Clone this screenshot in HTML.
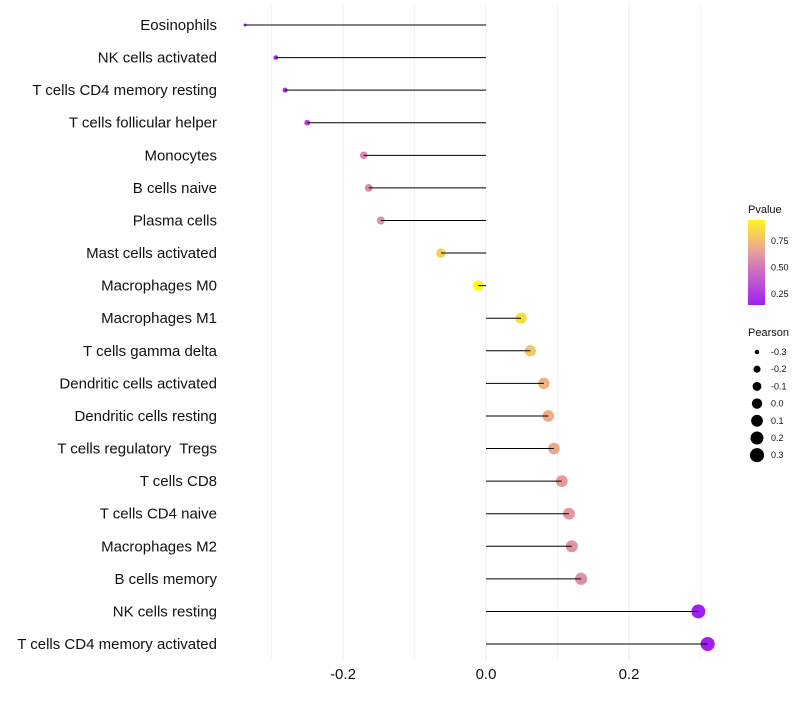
<!DOCTYPE html>
<html><head><meta charset="utf-8"><style>
body{margin:0;background:#fff;font-family:"Liberation Sans",sans-serif}
text{white-space:pre}
</style></head><body>
<svg id="chart" width="800" height="700" xmlns="http://www.w3.org/2000/svg">
<defs><linearGradient id="pg" x1="0" y1="1" x2="0" y2="0">
<stop offset="0" stop-color="#A020F0"/><stop offset="0.4" stop-color="#CC6FC0"/><stop offset="0.6" stop-color="#E59AA0"/><stop offset="0.76" stop-color="#F2BF72"/><stop offset="1" stop-color="#FFF21C"/>
</linearGradient></defs>
<g id="grid"></g><g id="dots"></g><g id="marks"></g><g id="labels"></g><g id="legend"></g>
</svg>
<script>
const cells=["Eosinophils","NK cells activated","T cells CD4 memory resting","T cells follicular helper","Monocytes","B cells naive","Plasma cells","Mast cells activated","Macrophages M0","Macrophages M1","T cells gamma delta","Dendritic cells activated","Dendritic cells resting","T cells regulatory  Tregs","T cells CD8","T cells CD4 naive","Macrophages M2","B cells memory","NK cells resting","T cells CD4 memory activated"];
const pearson=[-0.337,-0.294,-0.281,-0.250,-0.171,-0.164,-0.147,-0.063,-0.011,0.049,0.062,0.081,0.087,0.095,0.106,0.116,0.120,0.133,0.297,0.310];
const pvalues=[0.12,0.18,0.20,0.27,0.50,0.52,0.55,0.82,0.98,0.86,0.80,0.72,0.70,0.68,0.62,0.60,0.58,0.55,0.12,0.10];
const xTicks=[-0.2,0,0.2];
const xTickLabels=["-0.2","0.0","0.2"];
const xMinor=[-0.3,-0.1,0.1,0.3];
const legP=["0.75","0.50","0.25"];
const legR=[-0.3,-0.2,-0.1,0.0,0.1,0.2,0.3];
const NS="http://www.w3.org/2000/svg";
const x=v=>486+v*715;
const y=i=>25+i*32.58;
const r=v=>Math.sqrt(Math.max(1,27.1+v*73.7));
const stops=[[0.14,[160,32,240]],[0.3,[184,79,216]],[0.5,[216,136,176]],[0.65,[232,160,144]],[0.8,[242,200,96]],[0.95,[255,255,0]]];
function col(p){if(p<=stops[0][0])return "rgb("+stops[0][1]+")";for(let k=1;k<stops.length;k++){if(p<=stops[k][0]){const a=stops[k-1],b=stops[k],t=(p-a[0])/(b[0]-a[0]);return "rgb("+a[1].map((c,j)=>Math.round(c+(b[1][j]-c)*t))+")";}}return "rgb("+stops[stops.length-1][1]+")";}
function mk(tag,at,par){const e=document.createElementNS(NS,tag);for(const k in at)e.setAttribute(k,at[k]);document.getElementById(par).appendChild(e);return e;}
xMinor.concat(xTicks).forEach(v=>{const l=mk("line",{x1:x(v),x2:x(v),y1:5,y2:660,stroke:"#ebebeb","stroke-width":xTicks.includes(v)?1:0.6},"grid");

});
xTicks.forEach((v,i)=>{const t=mk("text",{x:x(v),y:679,"text-anchor":"middle","font-size":15,fill:"#111"},"labels");t.textContent=xTickLabels[i];

});
cells.forEach((c,i)=>{
const t=mk("text",{x:217,y:y(i)+5,"text-anchor":"end","font-size":15,fill:"#111"},"labels");t.textContent=c;


const d=mk("circle",{cx:x(pearson[i]),cy:y(i),r:r(pearson[i]),fill:col(pvalues[i])},"dots");


const ln=mk("line",{x1:x(0),x2:x(pearson[i]),y1:y(i),y2:y(i),stroke:"#000","stroke-width":1},"marks");


});
const lt=mk("text",{x:748,y:213,"font-size":11,fill:"#111"},"legend");lt.textContent="Pvalue";


const cb=mk("rect",{x:748,y:220,width:17,height:85,fill:"url(#pg)"},"legend");


legP.forEach((s,i)=>{const t=mk("text",{x:771,y:244+i*26.5,"font-size":9,fill:"#111"},"legend");t.textContent=s;

});
const pt=mk("text",{x:748,y:336,"font-size":11,fill:"#111"},"legend");pt.textContent="Pearson";


legR.forEach((v,i)=>{const cy=352+i*17.2;
const c=mk("circle",{cx:757,cy:cy,r:r(v),fill:"#000"},"legend");


const t=mk("text",{x:771,y:cy+3,"font-size":9,fill:"#111"},"legend");t.textContent=v.toFixed(1);

});
</script>
</body></html>
